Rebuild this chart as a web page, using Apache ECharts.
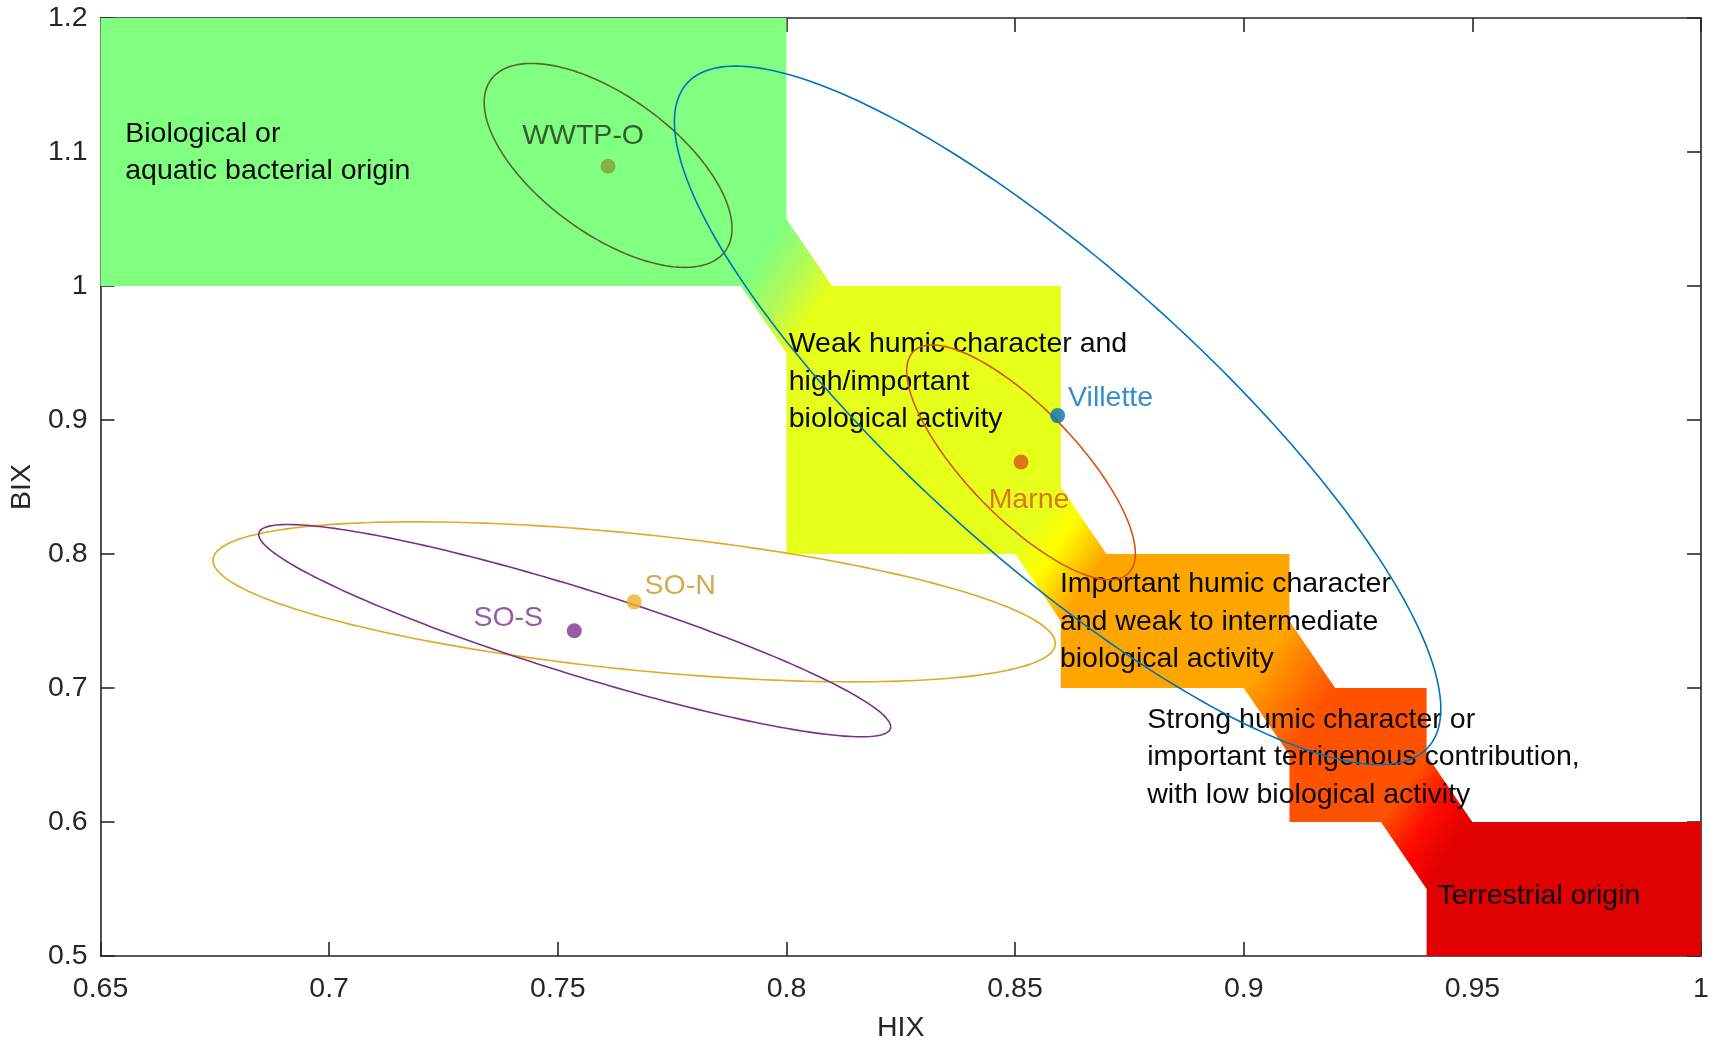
<!DOCTYPE html>
<html>
<head>
<meta charset="utf-8">
<script src="https://cdn.jsdelivr.net/npm/echarts@6/dist/echarts.min.js"></script>
<style>
html,body{margin:0;padding:0;background:#ffffff;}
#chart{width:1713px;height:1048px;}
</style>
</head>
<body>
<div id="chart"></div>
<script>
// ---------- axis ticks ----------
const xTickValues = [0.65, 0.7, 0.75, 0.8, 0.85, 0.9, 0.95, 1];
const xTickLabels = ['0.65', '0.7', '0.75', '0.8', '0.85', '0.9', '0.95', '1'];
const yTickValues = [0.5, 0.6, 0.7, 0.8, 0.9, 1, 1.1, 1.2];
const yTickLabels = ['0.5', '0.6', '0.7', '0.8', '0.9', '1', '1.1', '1.2'];

// ---------- classification regions (HIX / BIX boxes) ----------
const regionNames = ['Biological', 'Weak humic', 'Important humic', 'Strong humic', 'Terrestrial'];
const regionHixMin = [0.65, 0.80, 0.86, 0.91, 0.94];
const regionHixMax = [0.80, 0.86, 0.91, 0.94, 1.00];
const regionBixMin = [1.00, 0.80, 0.70, 0.60, 0.50];
const regionBixMax = [1.20, 1.00, 0.80, 0.70, 0.60];
const regionColors = ['#80FF80', '#E6FF1A', '#FFA500', '#FF5200', '#E00000'];

// transition bands between consecutive regions: corners A,B,C,D (HIX, BIX)
const bandCorners = [
  [[0.80, 1.05], [0.81, 1.00], [0.80, 0.95], [0.79, 1.00]],
  [[0.86, 0.85], [0.87, 0.80], [0.86, 0.75], [0.85, 0.80]],
  [[0.91, 0.75], [0.92, 0.70], [0.91, 0.65], [0.90, 0.70]],
  [[0.94, 0.65], [0.95, 0.60], [0.94, 0.55], [0.93, 0.60]]
];
const bandStops = [
  [[0, '#80FF80'], [0.5, '#B0FA5A'], [1, '#E6FF1A']],
  [[0, '#E6FF1A'], [0.4, '#FFFF00'], [1, '#FFA500']],
  [[0, '#FFA500'], [0.5, '#FF7A00'], [1, '#FF5200']],
  [[0, '#FF5200'], [0.5, '#FF0A00'], [1, '#E00000']]
];

// region annotation texts and anchors (left edge, vertical centre)
const regionTexts = [
  'Biological or\naquatic bacterial origin',
  'Weak humic character and\nhigh/important\nbiological activity',
  'Important humic character\nand weak to intermediate\nbiological activity',
  'Strong humic character or\nimportant terrigenous contribution,\nwith low biological activity',
  'Terrestrial origin'
];
const regionTextHix = [0.6554, 0.8005, 0.8598, 0.8789, 0.9424];
const regionTextBix = [1.0995, 0.9286, 0.7492, 0.6484, 0.5445];

// ---------- sampling sites ----------
const siteNames = ['WWTP-O', 'Villette', 'Marne', 'SO-N', 'SO-S'];
const siteHix = [0.7610, 0.8593, 0.8513, 0.7667, 0.7536];
const siteBix = [1.0894, 0.9033, 0.8687, 0.7643, 0.7427];
const siteColors = ['#8A9C38', '#0072BD', '#D95319', '#EDB120', '#7E2F8E'];
const siteLineColors = ['#5C6430', '#0072BD', '#D95319', '#E3A822', '#7E2F8E'];
const siteLabelColors = ['#243020', '#0072BD', '#D95319', '#C99526', '#7E2F8E'];

// confidence ellipses: centre, half width (HIX), half height (BIX), BIX offset of rightmost point
const ellipseCenterHix = [0.7610, 0.8593, 0.8513, 0.7667, 0.7537];
const ellipseCenterBix = [1.0900, 0.9035, 0.8684, 0.7643, 0.7428];
const ellipseHalfHix = [0.0271, 0.0838, 0.0250, 0.0921, 0.0691];
const ellipseHalfBix = [0.0761, 0.2606, 0.0876, 0.0597, 0.0792];
const ellipseRightBixOffset = [-0.047, -0.219, -0.068, -0.031, -0.0718];

// ---------- build chart ----------
const FONT = '"Liberation Sans", Arial, Helvetica, sans-serif';
const FS = 28.5;
const AXIS_COLOR = '#262626';

const chart = echarts.init(document.getElementById('chart'), null, {renderer: 'canvas'});

const regionData = regionNames.map((n, i) => [regionHixMin[i], regionBixMin[i], regionHixMax[i], regionBixMax[i]]);

function renderRegion(params, api) {
  const p0 = api.coord([api.value(0), api.value(3)]);
  const p1 = api.coord([api.value(2), api.value(1)]);
  return {
    type: 'rect',
    shape: {x: p0[0], y: p0[1], width: p1[0] - p0[0], height: p1[1] - p0[1]},
    style: {fill: regionColors[params.dataIndex], stroke: null}
  };
}

function renderBand(params, api) {
  const i = params.dataIndex;
  const pts = bandCorners[i].map(c => api.coord(c));
  const A = pts[0], B = pts[1], C = pts[2], D = pts[3];
  const m1 = [(A[0] + D[0]) / 2, (A[1] + D[1]) / 2];
  const m2 = [(B[0] + C[0]) / 2, (B[1] + C[1]) / 2];
  let ex = A[0] - D[0], ey = A[1] - D[1];
  const el = Math.hypot(ex, ey); ex /= el; ey /= el;
  let nx = -ey, ny = ex;
  let d = (m2[0] - m1[0]) * nx + (m2[1] - m1[1]) * ny;
  if (d < 0) { nx = -nx; ny = -ny; d = -d; }
  const grad = new echarts.graphic.LinearGradient(
    m1[0], m1[1], m1[0] + nx * d, m1[1] + ny * d,
    bandStops[i].map(s => ({offset: s[0], color: s[1]})), true);
  return {
    type: 'polygon',
    shape: {points: pts},
    style: {fill: grad, stroke: null}
  };
}

const textData = regionTexts.map((t, i) => [regionTextHix[i], regionTextBix[i]]);
function renderText(params, api) {
  const p = api.coord([api.value(0), api.value(1)]);
  return {
    type: 'text',
    x: p[0], y: p[1],
    style: {
      text: regionTexts[params.dataIndex],
      fill: '#0A0A0A',
      fontSize: FS,
      fontFamily: FONT,
      lineHeight: 37.5,
      align: 'left',
      verticalAlign: 'middle'
    }
  };
}

const ellipseData = siteNames.map((n, i) => [ellipseCenterHix[i], ellipseCenterBix[i], ellipseHalfHix[i], ellipseHalfBix[i], ellipseRightBixOffset[i]]);
function renderEllipse(params, api) {
  const cx = api.value(0), cy = api.value(1), ax = api.value(2), ay = api.value(3), ry = api.value(4);
  const s = Math.sqrt(Math.max(ay * ay - ry * ry, 0));
  const pts = [];
  const N = 240;
  for (let k = 0; k <= N; k++) {
    const t = 2 * Math.PI * k / N;
    pts.push(api.coord([cx + ax * Math.cos(t), cy + ry * Math.cos(t) + s * Math.sin(t)]));
  }
  return {
    type: 'polyline',
    shape: {points: pts},
    style: {stroke: siteLineColors[params.dataIndex], lineWidth: 1.6, fill: null}
  };
}

const labelOffsets = [[-25, -30], [53, -17], [8, 38], [46, -16], [-66, -13]];
const siteData = siteNames.map((n, i) => ({
  name: n,
  value: [siteHix[i], siteBix[i]],
  itemStyle: {color: siteColors[i]},
  label: {
    show: true,
    formatter: n,
    position: 'inside',
    offset: labelOffsets[i],
    color: siteLabelColors[i],
    fontSize: FS,
    fontFamily: FONT,
    align: 'center',
    verticalAlign: 'middle'
  }
}));

function fmtX(v) {
  const k = xTickValues.findIndex(t => Math.abs(t - v) < 1e-6);
  return k >= 0 ? xTickLabels[k] : '';
}
function fmtY(v) {
  const k = yTickValues.findIndex(t => Math.abs(t - v) < 1e-6);
  return k >= 0 ? yTickLabels[k] : '';
}

const axisLineStyle = {color: AXIS_COLOR, width: 1.6};
const option = {
  backgroundColor: '#ffffff',
  animation: false,
  grid: {left: 90.5, right: 12, top: 18, bottom: 87, containLabel: false},
  xAxis: [
    {
      type: 'value', min: 0.65, max: 1, interval: 0.05, position: 'bottom',
      name: 'HIX', nameLocation: 'middle', nameGap: 58,
      nameTextStyle: {color: AXIS_COLOR, fontSize: FS, fontFamily: FONT},
      axisLine: {show: true, lineStyle: axisLineStyle},
      axisTick: {show: true, inside: true, length: 14, lineStyle: axisLineStyle},
      axisLabel: {show: true, margin: 19, color: AXIS_COLOR, fontSize: FS, fontFamily: FONT, formatter: fmtX},
      splitLine: {show: false}
    },
    {
      type: 'value', min: 0.65, max: 1, interval: 0.05, position: 'top',
      axisLine: {show: true, lineStyle: axisLineStyle},
      axisTick: {show: true, inside: true, length: 14, lineStyle: axisLineStyle},
      axisLabel: {show: false},
      splitLine: {show: false}
    }
  ],
  yAxis: [
    {
      type: 'value', min: 0.5, max: 1.2, interval: 0.1, position: 'left',
      name: 'BIX', nameLocation: 'middle', nameGap: 61, nameRotate: 90,
      nameTextStyle: {color: AXIS_COLOR, fontSize: FS, fontFamily: FONT},
      axisLine: {show: true, lineStyle: axisLineStyle},
      axisTick: {show: true, inside: true, length: 14, lineStyle: axisLineStyle},
      axisLabel: {show: true, margin: 13, color: AXIS_COLOR, fontSize: FS, fontFamily: FONT, formatter: fmtY},
      splitLine: {show: false}
    },
    {
      type: 'value', min: 0.5, max: 1.2, interval: 0.1, position: 'right',
      axisLine: {show: true, lineStyle: axisLineStyle},
      axisTick: {show: true, inside: true, length: 14, lineStyle: axisLineStyle},
      axisLabel: {show: false},
      splitLine: {show: false}
    }
  ],
  series: [
    {type: 'custom', name: 'regions', renderItem: renderRegion, data: regionData, z: 1, silent: true, clip: true},
    {type: 'custom', name: 'bands', renderItem: renderBand, data: bandCorners.map((b, i) => [i]), z: 2, silent: true, clip: true},
    {type: 'custom', name: 'regionText', renderItem: renderText, data: textData, z: 3, silent: true},
    {type: 'custom', name: 'ellipses', renderItem: renderEllipse, data: ellipseData, z: 4, silent: true, clip: true},
    {type: 'scatter', name: 'sites', symbol: 'circle', symbolSize: 15, data: siteData, z: 5}
  ]
};
chart.setOption(option);
</script>
</body>
</html>
